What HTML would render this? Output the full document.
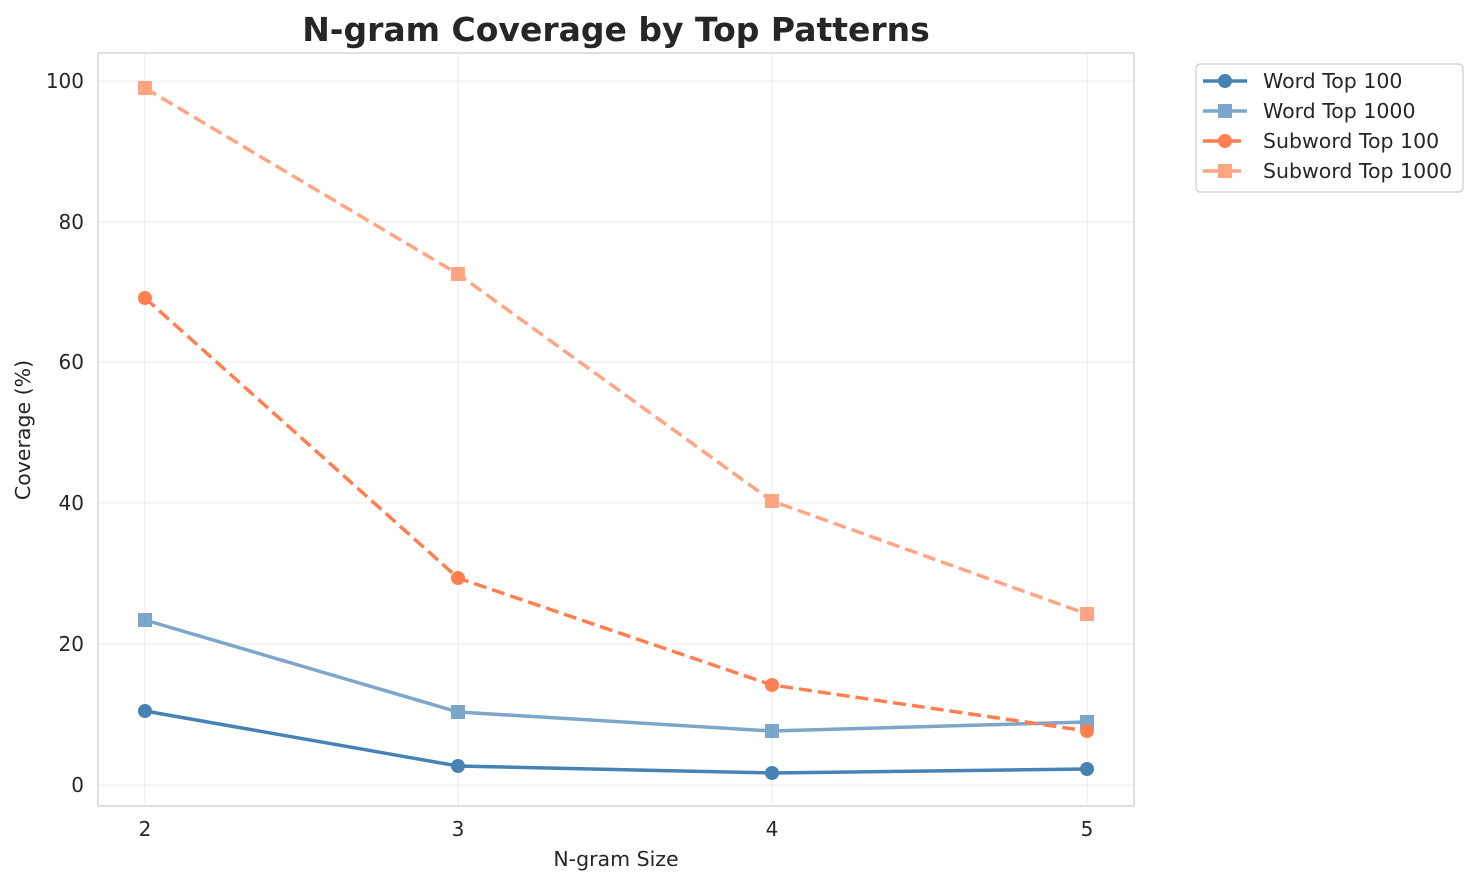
<!DOCTYPE html>
<html><head><meta charset="utf-8"><style>body{margin:0;background:#fff}</style></head><body>
<svg width="1478" height="885" xmlns="http://www.w3.org/2000/svg" font-family="'DejaVu Sans','Liberation Sans',sans-serif">
<rect width="1478" height="885" fill="#fff"/>
<g stroke="#ebebeb" stroke-width="1">
<line x1="145" y1="53" x2="145" y2="806"/><line x1="458" y1="53" x2="458" y2="806"/><line x1="772" y1="53" x2="772" y2="806"/><line x1="1087" y1="53" x2="1087" y2="806"/>
<line x1="98" y1="785" x2="1134" y2="785"/><line x1="98" y1="644" x2="1134" y2="644"/><line x1="98" y1="503" x2="1134" y2="503"/><line x1="98" y1="362" x2="1134" y2="362"/><line x1="98" y1="222" x2="1134" y2="222"/><line x1="98" y1="81" x2="1134" y2="81"/>
</g>
<rect x="98" y="53" width="1036" height="753" fill="none" stroke="#ccc" stroke-width="1.2"/>
<g font-size="20" fill="#262626" text-anchor="middle">
<text x="145" y="836">2</text><text x="458" y="836">3</text><text x="772" y="836">4</text><text x="1087" y="836">5</text>
</g>
<g font-size="20" fill="#262626" text-anchor="end">
<text x="84" y="792">0</text><text x="84" y="651">20</text><text x="84" y="510">40</text><text x="84" y="369">60</text><text x="84" y="229">80</text><text x="84" y="88">100</text>
</g>
<text x="616" y="866" font-size="20.5" fill="#262626" text-anchor="middle">N-gram Size</text>
<text transform="translate(30,430) rotate(-90)" font-size="20.5" fill="#262626" text-anchor="middle">Coverage (%)</text>
<text x="616" y="41" font-size="33" font-weight="bold" fill="#262626" text-anchor="middle">N-gram Coverage by Top Patterns</text>
<polyline points="145,711 458,766 772,773 1087,769" fill="none" stroke="#4682b4" stroke-width="3.5"/>
<g fill="#4682b4"><circle cx="145" cy="711" r="7"/><circle cx="458" cy="766" r="7"/><circle cx="772" cy="773" r="7"/><circle cx="1087" cy="769" r="7"/></g>
<g opacity="0.7"><polyline points="145,620 458,712 772,731 1087,722" fill="none" stroke="#4682b4" stroke-width="3.5"/>
<g fill="#4682b4"><rect x="138" y="613" width="14" height="14"/><rect x="451" y="705" width="14" height="14"/><rect x="765" y="724" width="14" height="14"/><rect x="1080" y="715" width="14" height="14"/></g></g>
<polyline points="145,298 458,578 772,685 1087,731" fill="none" stroke="#ff7f50" stroke-width="3.5" stroke-dasharray="13,6"/>
<g fill="#ff7f50"><circle cx="145" cy="298" r="7"/><circle cx="458" cy="578" r="7"/><circle cx="772" cy="685" r="7"/><circle cx="1087" cy="731" r="7"/></g>
<g opacity="0.7"><polyline points="145,88 458,274 772,501 1087,614" fill="none" stroke="#ff7f50" stroke-width="3.5" stroke-dasharray="13,6"/>
<g fill="#ff7f50"><rect x="138" y="81" width="14" height="14"/><rect x="451" y="267" width="14" height="14"/><rect x="765" y="494" width="14" height="14"/><rect x="1080" y="607" width="14" height="14"/></g></g>
<rect x="1196" y="64" width="267" height="128" rx="4" fill="#fff" stroke="#ccc" stroke-width="1.2"/>
<g font-size="20.5" fill="#262626">
<line x1="1203" y1="81" x2="1247" y2="81" stroke="#4682b4" stroke-width="3.5"/><circle cx="1225" cy="81" r="7" fill="#4682b4"/><text x="1263" y="88">Word Top 100</text>
<g opacity="0.7"><line x1="1203" y1="111" x2="1247" y2="111" stroke="#4682b4" stroke-width="3.5"/><rect x="1218" y="104" width="14" height="14" fill="#4682b4"/></g><text x="1263" y="118">Word Top 1000</text>
<line x1="1203" y1="141" x2="1241" y2="141" stroke="#ff7f50" stroke-width="3.5"/><circle cx="1225" cy="141" r="7" fill="#ff7f50"/><text x="1263" y="148">Subword Top 100</text>
<g opacity="0.7"><line x1="1203" y1="171" x2="1241" y2="171" stroke="#ff7f50" stroke-width="3.5"/><rect x="1218" y="164" width="14" height="14" fill="#ff7f50"/></g><text x="1263" y="178">Subword Top 1000</text>
</g>
</svg>
</body></html>
